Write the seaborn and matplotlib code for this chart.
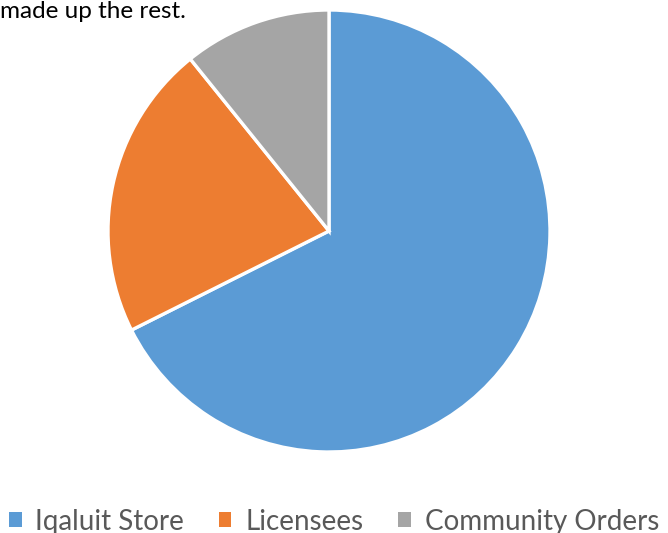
import matplotlib
matplotlib.use("Agg")
import matplotlib.pyplot as plt
from matplotlib.patches import Patch
import seaborn as sns

# Share of sales by channel (percent)
channels = ["Iqaluit Store", "Licensees", "Community Orders"]
shares = [67.6, 21.6, 10.8]
colors = ["#5B9BD5", "#ED7D31", "#A5A5A5"]

sns.set_theme(style="white")
plt.rcParams["font.family"] = ["Lato", "DejaVu Sans"]

fig = plt.figure(figsize=(6.68, 5.33), dpi=100)
ax = fig.add_axes([108 / 668, 81 / 533, 442 / 668, 442 / 533])

ax.pie(
    shares,
    colors=colors,
    startangle=90,
    counterclock=False,
    radius=1.0,
    wedgeprops=dict(edgecolor="white", linewidth=2.4),
)
ax.set_xlim(-1.0, 1.0)
ax.set_ylim(-1.0, 1.0)
ax.set_aspect("equal")
ax.axis("off")

fig.text(0.0, 1 - 1 / 533, "made up the rest.", ha="left", va="top",
         fontsize=17.5, color="black")

handles = [Patch(facecolor=c, edgecolor="none") for c in colors]
fig.legend(
    handles, channels,
    loc="lower center", bbox_to_anchor=(0.5, -0.05),
    ncol=3, frameon=False, fontsize=20,
    handlelength=0.45, handleheight=0.45, handletextpad=0.5,
    columnspacing=1.25, labelcolor="#595959",
)

fig.savefig("out.png", dpi=100)
